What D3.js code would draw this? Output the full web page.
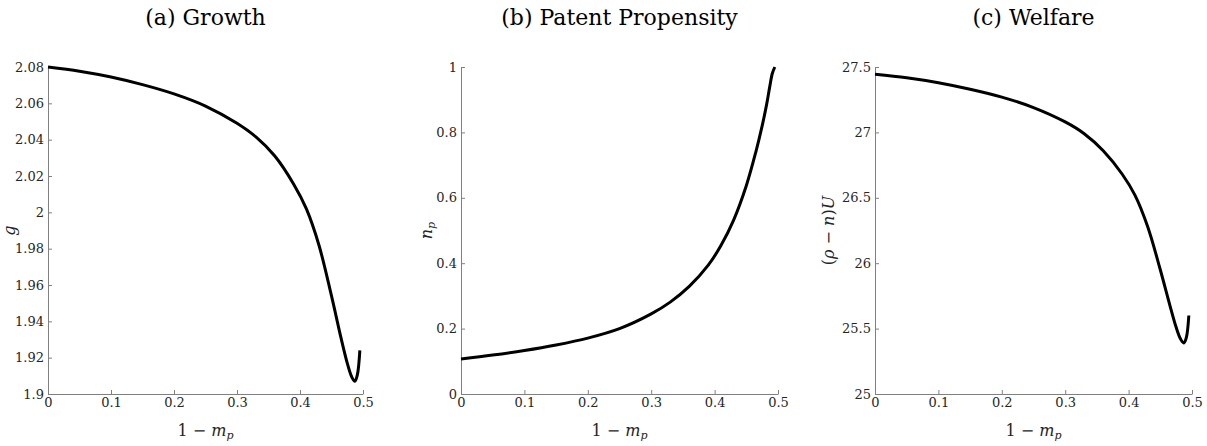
<!DOCTYPE html>
<html>
<head>
<meta charset="utf-8">
<script src="https://cdn.jsdelivr.net/npm/d3@7"></script>
<style>
  body { margin: 0; background: #fff; }
  svg { display: block; }
</style>
</head>
<body>
<div id="chart"></div>
<script>
// x values: 1 - m_p
const xVals = [0, 0.05, 0.1, 0.15, 0.2, 0.25, 0.3, 0.33, 0.36, 0.39, 0.41, 0.43, 0.45, 0.465, 0.475, 0.482, 0.487, 0.491, 0.495];
// (a) growth g
const growth = [2.080, 2.0777, 2.0745, 2.0703, 2.0652, 2.0585, 2.049, 2.0415, 2.031, 2.0155, 2.002, 1.982, 1.954, 1.931, 1.917, 1.9095, 1.907, 1.9105, 1.924];
// (b) patent propensity n_p
const propensity = [0.107, 0.119, 0.133, 0.150, 0.171, 0.200, 0.245, 0.281, 0.329, 0.394, 0.454, 0.532, 0.637, 0.74, 0.82, 0.885, 0.94, 0.98, 1.0];
// (c) welfare (rho - n)U
const welfare = [27.445, 27.418, 27.38, 27.33, 27.27, 27.19, 27.08, 26.99, 26.86, 26.68, 26.52, 26.28, 25.95, 25.68, 25.51, 25.42, 25.39, 25.43, 25.6];

const xTicks = [0, 0.1, 0.2, 0.3, 0.4, 0.5];
const growthTicks = [1.9, 1.92, 1.94, 1.96, 1.98, 2, 2.02, 2.04, 2.06, 2.08];
const propTicks = [0, 0.2, 0.4, 0.6, 0.8, 1];
const welfareTicks = [25, 25.5, 26, 26.5, 27, 27.5];

const width = 1207, height = 446;
const plotTop = 67, plotBottom = 394;
const serif = "DejaVu Serif";

const svg = d3.select("#chart").append("svg")
    .attr("width", width)
    .attr("height", height);

const panels = [
    { left: 48, right: 363, title: "(a) Growth", values: growth, domain: [1.9, 2.08], ticks: growthTicks, ylab: "g", yoff: 33 },
    { left: 461, right: 778, title: "(b) Patent Propensity", values: propensity, domain: [0, 1], ticks: propTicks, ylab: "np", yoff: 29 },
    { left: 875, right: 1192, title: "(c) Welfare", values: welfare, domain: [25, 27.5], ticks: welfareTicks, ylab: "rho", yoff: 41 }
];

panels.forEach(p => {
    const x = d3.scaleLinear().domain([0, 0.5]).range([p.left, p.right]);
    const y = d3.scaleLinear().domain(p.domain).range([plotBottom, plotTop]);
    const g = svg.append("g");

    // x axis, ticks pointing inward
    const xa = g.append("g")
        .attr("transform", `translate(0,${plotBottom})`)
        .call(d3.axisBottom(x).tickValues(xTicks).tickSizeInner(-4).tickSizeOuter(0).tickPadding(4)
            .tickFormat(d => d3.format("")(d)));
    // y axis
    const ya = g.append("g")
        .attr("transform", `translate(${p.left},0)`)
        .call(d3.axisLeft(y).tickValues(p.ticks).tickSizeInner(-4).tickSizeOuter(0).tickPadding(4)
            .tickFormat(d => d3.format("")(+d.toFixed(2))));

    [xa, ya].forEach(a => {
        a.attr("font-family", serif).attr("font-size", 13);
        a.selectAll(".tick text").attr("fill", "#262626");
        a.select(".domain").attr("stroke", "#808080").attr("stroke-width", 1);
        a.selectAll(".tick line").attr("stroke", "#808080");
    });

    // curve
    const line = d3.line()
        .x((d, i) => x(xVals[i]))
        .y(d => y(d))
        .curve(d3.curveCatmullRom.alpha(0.5));
    g.append("path")
        .datum(p.values)
        .attr("fill", "none")
        .attr("stroke", "#000")
        .attr("stroke-width", 3)
        .attr("d", line);

    // title
    g.append("text")
        .attr("font-family", serif)
        .attr("font-size", 22)
        .attr("x", (p.left + p.right) / 2)
        .attr("y", 25)
        .attr("text-anchor", "middle")
        .text(p.title);

    // x label: 1 − m_p
    const xl = g.append("text")
        .attr("font-family", serif)
        .attr("font-size", 16)
        .attr("fill", "#262626")
        .attr("x", (p.left + p.right) / 2)
        .attr("y", 436)
        .attr("text-anchor", "middle");
    xl.append("tspan").text("1 − ");
    xl.append("tspan").attr("font-style", "italic").text("m");
    xl.append("tspan").attr("font-style", "italic").attr("font-size", 11).attr("dy", 3).text("p");

    // y label
    const yl = g.append("text")
        .attr("font-family", serif)
        .attr("font-size", 16)
        .attr("fill", "#262626")
        .attr("transform", `translate(${p.left - p.yoff},${(plotTop + plotBottom) / 2}) rotate(-90)`)
        .attr("text-anchor", "middle");
    if (p.ylab === "g") {
        yl.append("tspan").attr("font-style", "italic").text("g");
    } else if (p.ylab === "np") {
        yl.append("tspan").attr("font-style", "italic").text("n");
        yl.append("tspan").attr("font-style", "italic").attr("font-size", 11).attr("dy", 3).text("p");
    } else {
        yl.append("tspan").text("(");
        yl.append("tspan").attr("font-style", "italic").text("ρ");
        yl.append("tspan").text(" − ");
        yl.append("tspan").attr("font-style", "italic").text("n");
        yl.append("tspan").text(")");
        yl.append("tspan").attr("font-style", "italic").text("U");
    }
});
</script>
</body>
</html>
